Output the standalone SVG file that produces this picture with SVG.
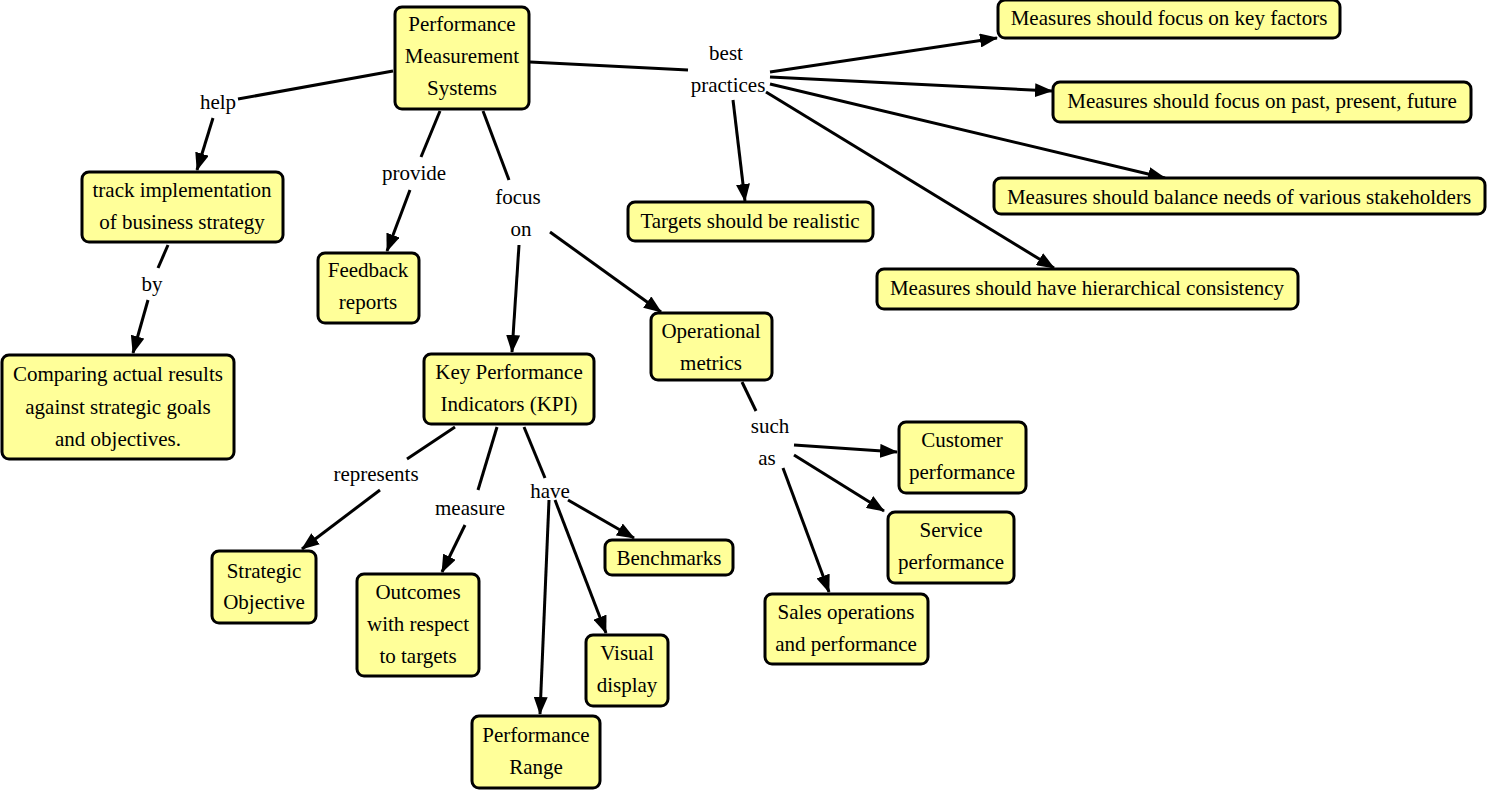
<svg xmlns="http://www.w3.org/2000/svg" width="1488" height="791" viewBox="0 0 1488 791" font-family="Liberation Serif, Times New Roman, serif">
<style>
.n rect{fill:#ffff99;stroke:#000;stroke-width:3}
text{font-size:21px;fill:#000;text-anchor:middle;dominant-baseline:central}
.c line{stroke:#000;stroke-width:3}
.a{marker-end:url(#ah)}
</style>
<defs>
<marker id="ah" markerUnits="userSpaceOnUse" markerWidth="18" markerHeight="14" refX="17" refY="7" orient="auto" viewBox="0 0 18 14">
<path d="M0,0 L18,7 L0,14 z" fill="#000"/>
</marker>
</defs>
<rect width="1488" height="791" fill="#fff"/>
<g id="connectors" class="c">
<line x1="393" y1="71" x2="238" y2="99"/>
<line class="a" x1="213" y1="118" x2="197" y2="170"/>
<line x1="440" y1="111" x2="421" y2="157"/>
<line class="a" x1="410" y1="190" x2="387" y2="251"/>
<line x1="483" y1="111" x2="509" y2="180"/>
<line class="a" x1="519" y1="245" x2="512" y2="352"/>
<line class="a" x1="550" y1="232" x2="661" y2="312"/>
<line x1="530" y1="62" x2="688" y2="70"/>
<line class="a" x1="770" y1="72" x2="997" y2="38"/>
<line class="a" x1="770" y1="77" x2="1052" y2="91"/>
<line class="a" x1="770" y1="84" x2="1165" y2="178"/>
<line class="a" x1="766" y1="92" x2="1054" y2="268"/>
<line class="a" x1="733" y1="100" x2="745" y2="201"/>
<line x1="168" y1="245" x2="158" y2="268"/>
<line class="a" x1="148" y1="300" x2="133" y2="353"/>
<line x1="455" y1="427" x2="407" y2="459"/>
<line class="a" x1="380" y1="490" x2="302" y2="549"/>
<line x1="497" y1="427" x2="478" y2="490"/>
<line class="a" x1="465" y1="525" x2="442" y2="572"/>
<line x1="524" y1="427" x2="545" y2="478"/>
<line class="a" x1="568" y1="500" x2="634" y2="538"/>
<line class="a" x1="549" y1="500" x2="540" y2="714"/>
<line class="a" x1="555" y1="500" x2="606" y2="633"/>
<line x1="742" y1="382" x2="756" y2="411"/>
<line class="a" x1="794" y1="445" x2="897" y2="452"/>
<line class="a" x1="794" y1="455" x2="884" y2="511"/>
<line class="a" x1="783" y1="468" x2="829" y2="592"/>
</g>
<g id="labels">
<text x="218" y="102">help</text>
<text x="414" y="173">provide</text>
<text x="518" y="197">focus</text>
<text x="521" y="229">on</text>
<text x="726" y="53">best</text>
<text x="728" y="85">practices</text>
<text x="152" y="284">by</text>
<text x="376" y="474">represents</text>
<text x="470" y="508">measure</text>
<text x="550" y="491">have</text>
<text x="770" y="426">such</text>
<text x="767" y="458">as</text>
</g>
<g id="pms" class="n"><rect x="395" y="7" width="134" height="102" rx="7"/><text x="462" y="24">Performance</text><text x="462" y="56">Measurement</text><text x="462" y="88">Systems</text></g>
<g id="track" class="n"><rect x="82" y="172" width="201" height="70" rx="7"/><text x="182" y="190">track implementation</text><text x="182" y="222">of business strategy</text></g>
<g id="comparing" class="n"><rect x="2" y="355" width="232" height="104" rx="7"/><text x="118" y="374">Comparing actual results</text><text x="118" y="407">against strategic goals</text><text x="118" y="439">and objectives.</text></g>
<g id="feedback" class="n"><rect x="318" y="253" width="101" height="70" rx="7"/><text x="368" y="270">Feedback</text><text x="368" y="302">reports</text></g>
<g id="kpi" class="n"><rect x="424" y="354" width="170" height="70" rx="7"/><text x="509" y="372">Key Performance</text><text x="509" y="404">Indicators (KPI)</text></g>
<g id="operational" class="n"><rect x="651" y="313" width="121" height="67" rx="7"/><text x="711" y="331">Operational</text><text x="711" y="363">metrics</text></g>
<g id="targets" class="n"><rect x="628" y="202" width="245" height="39" rx="7"/><text x="750" y="221">Targets should be realistic</text></g>
<g id="keyfactors" class="n"><rect x="998" y="0" width="342" height="38" rx="7"/><text x="1169" y="18">Measures should focus on key factors</text></g>
<g id="pastfuture" class="n"><rect x="1053" y="82" width="418" height="40" rx="7"/><text x="1262" y="101">Measures should focus on past, present, future</text></g>
<g id="balance" class="n"><rect x="994" y="178" width="491" height="36" rx="7"/><text x="1239" y="197">Measures should balance needs of various stakeholders</text></g>
<g id="hierarchical" class="n"><rect x="877" y="269" width="421" height="40" rx="7"/><text x="1087" y="288">Measures should have hierarchical consistency</text></g>
<g id="strategic" class="n"><rect x="212" y="551" width="104" height="72" rx="7"/><text x="264" y="571">Strategic</text><text x="264" y="602">Objective</text></g>
<g id="outcomes" class="n"><rect x="357" y="574" width="122" height="102" rx="7"/><text x="418" y="592">Outcomes</text><text x="418" y="624">with respect</text><text x="418" y="656">to targets</text></g>
<g id="benchmarks" class="n"><rect x="605" y="540" width="128" height="35" rx="7"/><text x="669" y="558">Benchmarks</text></g>
<g id="visual" class="n"><rect x="586" y="635" width="82" height="71" rx="7"/><text x="627" y="653">Visual</text><text x="627" y="685">display</text></g>
<g id="range" class="n"><rect x="472" y="716" width="128" height="72" rx="7"/><text x="536" y="735">Performance</text><text x="536" y="767">Range</text></g>
<g id="customer" class="n"><rect x="899" y="422" width="127" height="71" rx="7"/><text x="962" y="440">Customer</text><text x="962" y="472">performance</text></g>
<g id="service" class="n"><rect x="888" y="512" width="126" height="71" rx="7"/><text x="951" y="530">Service</text><text x="951" y="562">performance</text></g>
<g id="sales" class="n"><rect x="765" y="594" width="163" height="70" rx="7"/><text x="846" y="612">Sales operations</text><text x="846" y="644">and performance</text></g>
</svg>
